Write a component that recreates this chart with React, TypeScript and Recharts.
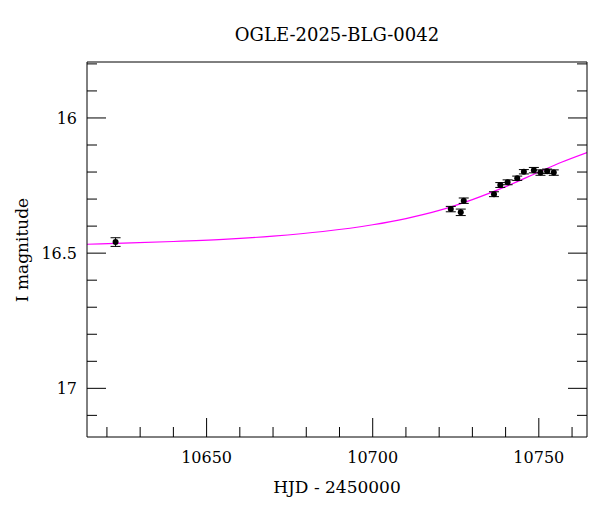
import {
  ComposedChart,
  ErrorBar,
  Line,
  Scatter,
  XAxis,
  YAxis,
} from "recharts"

// observed photometry (HJD - 2450000, I mag, 1-sigma error)
const obsHjd = [10622.6, 10723.5, 10726.5, 10727.4, 10736.5, 10738.4, 10740.6, 10743.5, 10745.5, 10748.5, 10750.5, 10752.5, 10754.5]
const obsMag = [16.459, 16.337, 16.349, 16.306, 16.282, 16.248, 16.238, 16.223, 16.199, 16.193, 16.202, 16.197, 16.202]
const obsErr = [0.016, 0.010, 0.012, 0.010, 0.009, 0.009, 0.009, 0.008, 0.008, 0.010, 0.010, 0.008, 0.010]

// model curve
const modelHjd = [10614, 10625, 10640, 10655, 10670, 10685, 10700, 10710, 10720, 10730, 10740, 10750, 10757, 10764.5]
const modelMag = [16.467, 16.463, 16.457, 16.449, 16.437, 16.42, 16.395, 16.372, 16.342, 16.302, 16.254, 16.2, 16.163, 16.128]

const xTicks = [10620, 10630, 10640, 10650, 10660, 10670, 10680, 10690, 10700, 10710, 10720, 10730, 10740, 10750, 10760]
const xMajor = [10650, 10700, 10750]
const yTicks = [15.8, 15.9, 16, 16.1, 16.2, 16.3, 16.4, 16.5, 16.6, 16.7, 16.8, 16.9, 17, 17.1]
const yMajor = [16, 16.5, 17]

const title = "OGLE-2025-BLG-0042"
const xTitle = "HJD - 2450000"
const yTitle = "I magnitude"

const font = "'DejaVu Serif', serif"
const X_DOMAIN: [number, number] = [10614, 10764.5]
const Y_DOMAIN: [number, number] = [15.793, 17.18]

const obs = obsHjd.map((t, i) => ({ t, mag: obsMag[i], err: obsErr[i] }))
const model = modelHjd.map((t, i) => ({ t, mag: modelMag[i] }))

const isMajor = (list: number[], v: number) => list.some((m) => Math.abs(m - v) < 1e-6)

function BottomTick({ x, y, payload }: any) {
  const major = isMajor(xMajor, payload.value)
  return (
    <g>
      <line x1={x} x2={x} y1={y} y2={y - (major ? 19 : 10)} stroke="#000" />
      {major && (
        <text x={x} y={y + 26} textAnchor="middle" fontFamily={font} fontSize={16} fill="#000">
          {payload.value}
        </text>
      )}
    </g>
  )
}

function TopTick({ x, y, payload }: any) {
  const major = isMajor(xMajor, payload.value)
  return <line x1={x} x2={x} y1={y} y2={y + (major ? 19 : 10)} stroke="#000" />
}

function LeftTick({ x, y, payload }: any) {
  const major = isMajor(yMajor, payload.value)
  return (
    <g>
      <line x1={x} x2={x + (major ? 19 : 10)} y1={y} y2={y} stroke="#000" />
      {major && (
        <text x={x - 10} y={y + 6} textAnchor="end" fontFamily={font} fontSize={16} fill="#000">
          {payload.value}
        </text>
      )}
    </g>
  )
}

function RightTick({ x, y, payload }: any) {
  const major = isMajor(yMajor, payload.value)
  return <line x1={x} x2={x - (major ? 19 : 10)} y1={y} y2={y} stroke="#000" />
}

const Dot = (p: any) => <circle cx={p.cx} cy={p.cy} r={3} fill="#000" />

export default function App() {
  return (
    <div style={{ position: "absolute", left: 0, top: 0, background: "#fff" }}>
      <ComposedChart width={600} height={512} margin={{ top: 0, right: 0, bottom: 0, left: 0 }}>
        <XAxis
          xAxisId="b"
          dataKey="t"
          type="number"
          domain={X_DOMAIN}
          allowDataOverflow
          ticks={xTicks}
          interval={0}
          tickSize={0}
          tickMargin={0}
          tick={<BottomTick />}
          axisLine={{ stroke: "#000" }}
          height={75}
        />
        <XAxis
          xAxisId="top"
          orientation="top"
          type="number"
          domain={X_DOMAIN}
          allowDataOverflow
          ticks={xTicks}
          interval={0}
          tickSize={0}
          tickMargin={0}
          tick={<TopTick />}
          axisLine={{ stroke: "#000" }}
          height={62}
        />
        <YAxis
          yAxisId="l"
          type="number"
          reversed
          domain={Y_DOMAIN}
          allowDataOverflow
          ticks={yTicks}
          interval={0}
          tickSize={0}
          tickMargin={0}
          tick={<LeftTick />}
          axisLine={{ stroke: "#000" }}
          width={87}
        />
        <YAxis
          yAxisId="r"
          orientation="right"
          type="number"
          reversed
          domain={Y_DOMAIN}
          allowDataOverflow
          ticks={yTicks}
          interval={0}
          tickSize={0}
          tickMargin={0}
          tick={<RightTick />}
          axisLine={{ stroke: "#000" }}
          width={13}
        />
        <Line
          xAxisId="b"
          yAxisId="l"
          data={model}
          dataKey="mag"
          type="monotone"
          stroke="#ff00ff"
          strokeWidth={1.2}
          dot={false}
          isAnimationActive={false}
        />
        <Scatter
          xAxisId="b"
          yAxisId="l"
          data={obs}
          dataKey="mag"
          shape={Dot}
          isAnimationActive={false}
        >
          <ErrorBar dataKey="err" direction="y" width={5} stroke="#000" strokeWidth={1} isAnimationActive={false} />
        </Scatter>
        <text x={337} y={41} textAnchor="middle" fontFamily={font} fontSize={18} fill="#000">
          {title}
        </text>
        <text x={337} y={493} textAnchor="middle" fontFamily={font} fontSize={17} fill="#000">
          {xTitle}
        </text>
        <text
          x={28}
          y={250}
          textAnchor="middle"
          fontFamily={font}
          fontSize={17}
          fill="#000"
          transform="rotate(-90 28 250)"
        >
          {yTitle}
        </text>
      </ComposedChart>
    </div>
  )
}
